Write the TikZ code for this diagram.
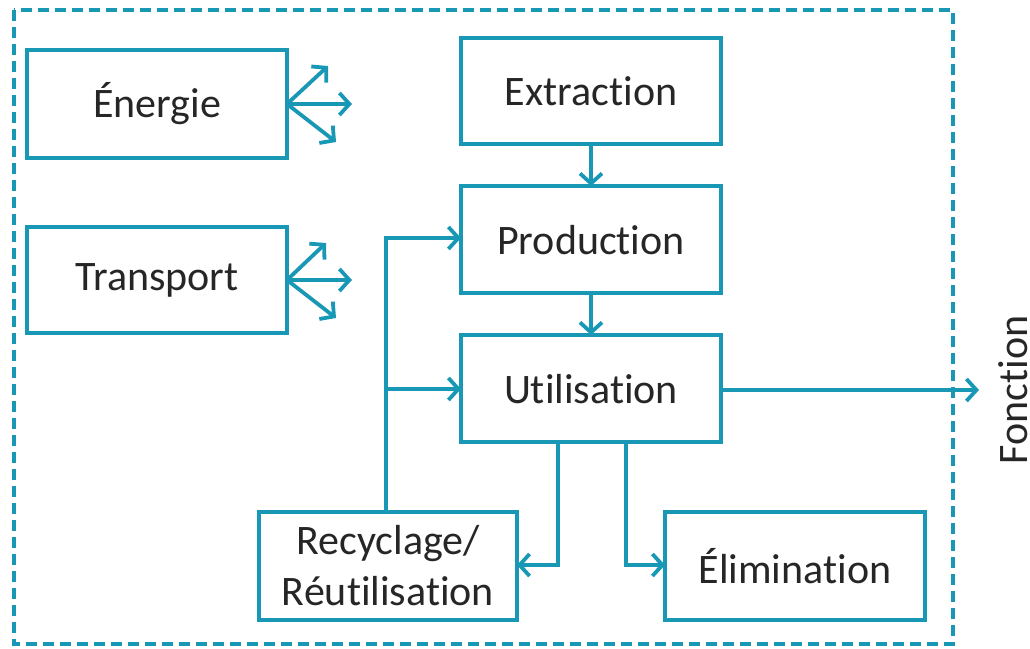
\documentclass[tikz,border=0pt]{standalone}
\usepackage{fontspec}
\setmainfont{Carlito}[Ligatures={NoCommon}]
\usetikzlibrary{arrows.meta}
\definecolor{teal1}{RGB}{25,152,182}
\tikzset{
  box/.style={draw=teal1, line width=3.8pt, fill=white},
  conn/.style={draw=teal1, line width=3.8pt, -{Straight Barb[length=10pt,width=22pt,line width=3.8pt]}},
  lbl/.style={font=\fontsize{42}{51}\selectfont, text=black!85}
}
\begin{document}
\begin{tikzpicture}[x=1pt,y=-1pt]
\useasboundingbox (0,0) rectangle (1030,648);
\draw[teal1, line width=3.6pt, dash pattern=on 11pt off 6pt] (14,10) rectangle (953,644);
% boxes
\draw[box] (27,50) rectangle (287,158); \node[lbl] (en) at (157,104) {Énergie};
\draw[box] (27,227) rectangle (287,333); \node[lbl] (tr) at (157,280) {Transport};
\draw[box] (461,38) rectangle (721,144); \node[lbl] (ex) at (591,91) {Extraction};
\draw[box] (461,186) rectangle (721,293); \node[lbl] (pr) at (591,240) {Production};
\draw[box] (461,335) rectangle (721,442); \node[lbl] (ut) at (591,389) {Utilisation};
\draw[box] (259,512) rectangle (517,620); \node[lbl, align=center] (re) at (388,566) {Recyclage/\\Réutilisation};
\draw[box] (665,512) rectangle (925,620); \node[lbl] (el) at (795,566) {Élimination};
% energie arrows
\coordinate (eo) at (287,104);
\coordinate (e1) at (328,66); \coordinate (e2) at (352,104); \coordinate (e3) at (336,142);
\draw[conn] (eo) -- (e1); \draw[conn] (eo) -- (e2); \draw[conn] (eo) -- (e3);
\coordinate (to) at (287,280);
\coordinate (t1) at (326,243); \coordinate (t2) at (352,280); \coordinate (t3) at (336,318);
\draw[conn] (to) -- (t1); \draw[conn] (to) -- (t2); \draw[conn] (to) -- (t3);
% vertical flow
\draw[conn] (591,144) -- (591,186);
\draw[conn] (591,293) -- (591,335);
% function
\coordinate (fo) at (979,390);
\draw[conn] (721,390) -- (fo);
\node[lbl, rotate=90, anchor=base, inner sep=0pt] (fn) at (1027,390) {Fonction};
% recycling
\draw[conn] (386,512) -- (386,238) -- (461,238);
\draw[conn] (386,389) -- (461,389);
\draw[conn] (558,442) -- (558,565) -- (517,565);
\draw[conn] (626,442) -- (626,565) -- (665,565);
\end{tikzpicture}
\end{document}
